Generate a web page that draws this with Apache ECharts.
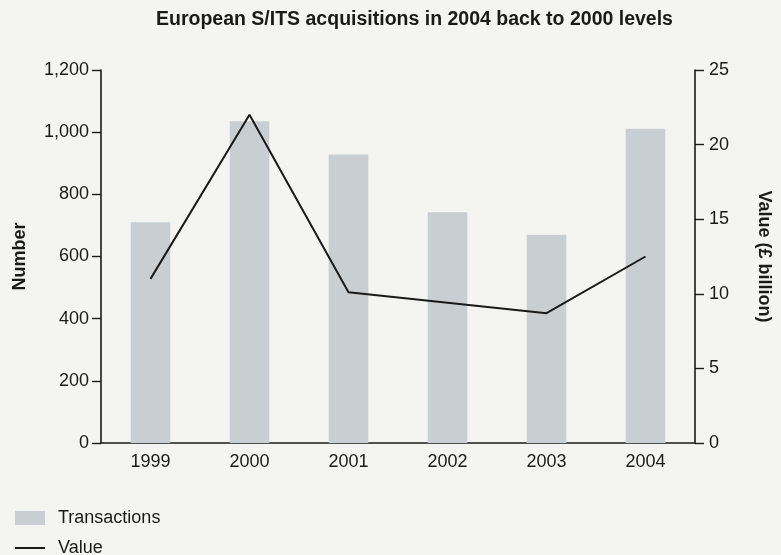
<!DOCTYPE html>
<html>
<head>
<meta charset="utf-8">
<title>European S/ITS acquisitions</title>
<script src="https://cdn.jsdelivr.net/npm/echarts@6/dist/echarts.min.js"></script>
<style>
  html, body { margin: 0; padding: 0; background: #f4f4f2; }
  #chart { width: 781px; height: 555px; }
</style>
</head>
<body>
<div id="chart"></div>
<script>
// Acquisitions per year: number of deals (bars) and total value in £bn (line)
const years = ['1999', '2000', '2001', '2002', '2003', '2004'];
const transactions = [710, 1035, 928, 742, 670, 1011];
const valueBn = [11.0, 22.0, 10.1, 9.4, 8.7, 12.5];

const FONT = 'Liberation Sans, Arial, Helvetica, sans-serif';
const INK = '#1a1a1a';

const chart = echarts.init(document.getElementById('chart'), null, { renderer: 'canvas' });

const axisCommon = {
  axisLine: { show: true, lineStyle: { color: INK, width: 1.6 } },
  axisTick: { show: true, inside: false, length: 9, lineStyle: { color: INK, width: 1.4 } },
  splitLine: { show: false },
  nameLocation: 'middle',
  nameTextStyle: { fontFamily: FONT, fontSize: 18, fontWeight: 'bold', color: INK }
};

const legendText = { fontFamily: FONT, fontSize: 18, color: INK, padding: [0, 0, 0, 8] };

chart.setOption({
  backgroundColor: '#f4f4f2',
  animation: false,
  title: {
    text: 'European S/ITS acquisitions in 2004 back to 2000 levels',
    left: 151,
    top: 5,
    textStyle: { fontFamily: FONT, fontSize: 19.5, fontWeight: 'bold', color: INK }
  },
  // two stacked key entries: shaded block for deals, plain rule for value
  legend: [
    {
      left: 15,
      top: 509,
      padding: 0,
      itemWidth: 30,
      itemHeight: 14,
      textStyle: legendText,
      data: [{ name: 'Transactions', icon: 'rect' }]
    },
    {
      left: 15,
      top: 539,
      padding: 0,
      itemWidth: 30,
      itemHeight: 2,
      textStyle: legendText,
      data: [{ name: 'Value', icon: 'rect' }]
    }
  ],
  grid: { left: 101, right: 86, top: 70, bottom: 112, containLabel: false },
  xAxis: {
    type: 'category',
    data: years,
    axisLine: { show: true, lineStyle: { color: INK, width: 1.6 } },
    axisTick: { show: false },
    axisLabel: { fontFamily: FONT, fontSize: 18, color: INK, margin: 10 }
  },
  yAxis: [
    Object.assign({}, axisCommon, {
      type: 'value',
      position: 'left',
      min: 0, max: 1200, interval: 200,
      name: 'Number',
      nameGap: 72,
      axisLabel: {
        fontFamily: FONT, fontSize: 18, color: INK, margin: 12,
        formatter: v => v.toLocaleString('en-US')
      }
    }),
    Object.assign({}, axisCommon, {
      type: 'value',
      position: 'right',
      min: 0, max: 25, interval: 5,
      name: 'Value (£ billion)',
      nameRotate: -90,
      nameGap: 60,
      axisLabel: { fontFamily: FONT, fontSize: 18, color: INK, margin: 14 }
    })
  ],
  series: [
    {
      name: 'Transactions',
      type: 'bar',
      yAxisIndex: 0,
      data: transactions,
      barWidth: '40%',
      itemStyle: { color: '#c9ced2' }
    },
    {
      name: 'Value',
      type: 'line',
      yAxisIndex: 1,
      data: valueBn,
      symbol: 'none',
      lineStyle: { color: INK, width: 2 },
      itemStyle: { color: INK }
    }
  ]
});
</script>
</body>
</html>
